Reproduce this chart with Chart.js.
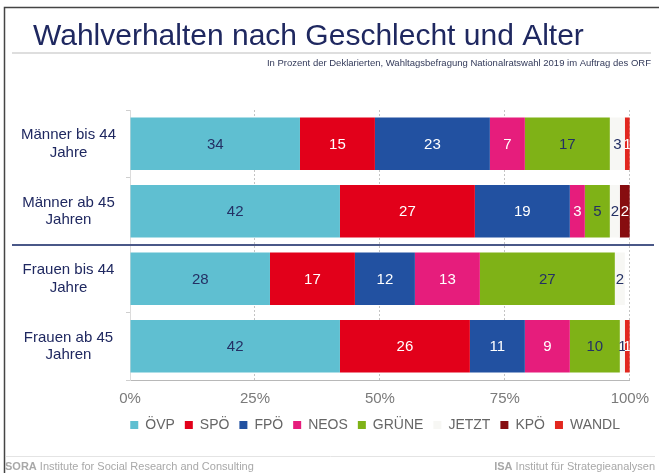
<!DOCTYPE html>
<html>
<head>
<meta charset="utf-8">
<script src="https://cdn.jsdelivr.net/npm/chart.js@4.4.1/dist/chart.umd.min.js"></script>
<style>
  html, body { margin: 0; padding: 0; background: #fff; }
  #wrap { width: 659px; height: 473px; }
</style>
</head>
<body>
<div id="wrap"><canvas id="myChart" width="659" height="473"></canvas></div>
<script>
const categories = [
    ['Männer bis 44', 'Jahre'],
    ['Männer ab 45', 'Jahren'],
    ['Frauen bis 44', 'Jahre'],
    ['Frauen ab 45', 'Jahren']
];
const partyNames = ['ÖVP', 'SPÖ', 'FPÖ', 'NEOS', 'GRÜNE', 'JETZT', 'KPÖ', 'WANDL'];

const oevp   = [34, 42, 28, 42];
const spoe   = [15, 27, 17, 26];
const fpoe   = [23, 19, 12, 11];
const neos   = [7, 3, 13, 9];
const gruene = [17, 5, 27, 10];
const jetzt  = [3, 2, 2, 1];
const kpoe   = [0, 2, 0, 0];
const wandl  = [1, 0, 0, 1];

const xTicks = [0, 25, 50, 75, 100];

const titleText = 'Wahlverhalten nach Geschlecht und Alter';
const subtitleText = 'In Prozent der Deklarierten, Wahltagsbefragung Nationalratswahl 2019 im Auftrag des ORF';

// colours of the bars and of the numbers in them
const partyColors = ['#5fbfd1', '#e2001a', '#2251a1', '#e61d7c', '#7fb217', '#f7f7f4', '#870d10', '#e2271f'];
const labelColors = ['#243064', '#ffffff', '#ffffff', '#ffffff', '#243064', '#243064', '#ffffff', '#ffffff'];

const seriesValues = [oevp, spoe, fpoe, neos, gruene, jetzt, kpoe, wandl];

const navy = '#1f2860';
const fontFamily = '"Liberation Sans", Arial, sans-serif';
Chart.defaults.font.family = fontFamily;

// rahmen, titel, fusszeile
const decorations = {
    id: 'decorations',
    beforeDraw(chart) {
        const c = chart.ctx;
        c.save();
        c.fillStyle = '#fff';
        c.fillRect(0, 0, chart.width, chart.height);

        c.strokeStyle = '#444';
        c.lineWidth = 1.5;
        c.beginPath();
        c.moveTo(4.5, chart.height);
        c.lineTo(4.5, 7.5);
        c.lineTo(chart.width, 7.5);
        c.stroke();

        c.fillStyle = navy;
        c.font = '30px ' + fontFamily;
        c.textBaseline = 'alphabetic';
        c.textAlign = 'left';
        c.fillText(titleText, 33, 45);

        c.strokeStyle = '#dedede';
        c.lineWidth = 2;
        c.beginPath();
        c.moveTo(12, 53);
        c.lineTo(651, 53);
        c.stroke();

        c.fillStyle = '#333a5a';
        c.font = '9.5px ' + fontFamily;
        c.textAlign = 'right';
        c.fillText(subtitleText, 651, 66);

        c.strokeStyle = '#e4e4e4';
        c.lineWidth = 1;
        c.beginPath();
        c.moveTo(6, 456.5);
        c.lineTo(655, 456.5);
        c.stroke();

        c.fillStyle = '#a8a8a8';
        c.font = 'bold 11px ' + fontFamily;
        c.textAlign = 'left';
        c.fillText('SORA', 5, 470);
        let w = c.measureText('SORA ').width;
        c.font = '11px ' + fontFamily;
        c.fillText('Institute for Social Research and Consulting', 5 + w, 470);

        c.textAlign = 'right';
        c.fillText('Institut für Strategieanalysen', 655, 470);
        w = c.measureText('Institut für Strategieanalysen').width;
        c.font = 'bold 11px ' + fontFamily;
        c.fillText('ISA ', 655 - w, 470);
        c.restore();
    },
    afterDraw(chart) {
        const c = chart.ctx;
        const y = chart.scales.y;
        const sep = (y.getPixelForValue(1) + y.getPixelForValue(2)) / 2;
        c.save();
        c.strokeStyle = '#4a5888';
        c.lineWidth = 2;
        c.beginPath();
        c.moveTo(12, sep);
        c.lineTo(654, sep);
        c.stroke();
        c.restore();
    }
};

// zahlen in den balken
const valueLabels = {
    id: 'valueLabels',
    afterDatasetsDraw(chart) {
        const c = chart.ctx;
        chart.data.datasets.forEach((ds, i) => {
            const meta = chart.getDatasetMeta(i);
            meta.data.forEach((bar, j) => {
                const v = ds.data[j];
                if (!v) return;
                const p = bar.getProps(['x', 'y', 'base', 'height'], true);
                c.save();
                if (partyNames[i] !== 'JETZT') {
                    c.beginPath();
                    c.rect(Math.min(p.base, p.x), p.y - p.height / 2, Math.abs(p.x - p.base), p.height);
                    c.clip();
                }
                c.fillStyle = labelColors[i];
                c.font = '15px ' + fontFamily;
                c.textAlign = 'center';
                c.textBaseline = 'middle';
                c.fillText(String(v), (p.x + p.base) / 2, p.y + 1);
                c.restore();
            });
        });
    }
};

const ctx = document.getElementById('myChart').getContext('2d');

new Chart(ctx, {
    type: 'bar',
    data: {
        labels: categories,
        datasets: partyNames.map((name, i) => ({
            label: name,
            data: seriesValues[i],
            backgroundColor: partyColors[i],
            borderWidth: 0,
            categoryPercentage: 1,
            barPercentage: 0.78
        }))
    },
    options: {
        indexAxis: 'y',
        responsive: false,
        animation: false,
        layout: { padding: { left: 0, right: 29, top: 110, bottom: 31 } },
        plugins: {
            legend: {
                position: 'bottom',
                align: 'end',
                labels: {
                    boxWidth: 8,
                    boxHeight: 8,
                    color: '#666',
                    font: { size: 14 },
                    padding: 10
                }
            },
            tooltip: { enabled: false }
        },
        scales: {
            x: {
                stacked: true,
                min: 0,
                max: 100,
                afterBuildTicks(scale) {
                    scale.ticks = xTicks.map(v => ({ value: v }));
                },
                grid: { color: '#c4c4c4', drawTicks: false },
                border: { display: true, color: '#b8b8b8', dash: [2, 2] },
                ticks: {
                    callback: v => v + '%',
                    color: '#7a7a7a',
                    font: { size: 15 },
                    padding: 10
                },
                afterFit(scale) { scale.height = 28; }
            },
            y: {
                stacked: true,
                grid: { display: true, drawOnChartArea: false, tickLength: 4, color: '#cfcfcf', offset: true },
                border: { color: '#dcdcdc' },
                ticks: {
                    color: navy,
                    font: { size: 15, lineHeight: 1.15 },
                    crossAlign: 'center',
                    padding: 10
                },
                afterFit(scale) { scale.width = 130; }
            }
        }
    },
    plugins: [decorations, valueLabels]
});
</script>
</body>
</html>
